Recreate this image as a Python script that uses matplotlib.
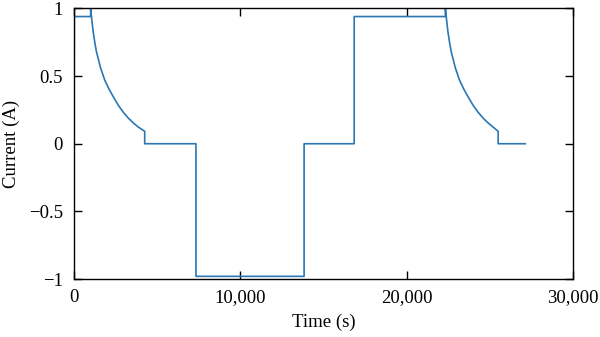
import matplotlib
matplotlib.use("Agg")
import matplotlib.pyplot as plt
from matplotlib.ticker import FuncFormatter

plt.rcParams['font.family'] = ['Liberation Serif', 'DejaVu Serif']
plt.rcParams['font.size'] = 13.5

# current profile (time in s, current in A)
time_s = [0, 20, 1000, 1000, 1050, 1150, 1250, 1350, 1600, 1850, 2100, 2350,
          2660, 2950, 3260, 3600, 3900, 4250, 4250, 7330, 7330, 13830, 13830,
          16840, 16840, 22320, 22320, 22370, 22470, 22570, 22670, 22920, 23170,
          23420, 23670, 23980, 24270, 24580, 24920, 25220, 25490, 25490, 27120]
current_a = [0, 0.94, 0.94, 1.0, 0.94, 0.83, 0.75, 0.68, 0.56, 0.47, 0.405, 0.35,
             0.285, 0.235, 0.19, 0.15, 0.12, 0.092, 0, 0, -0.98, -0.98, 0,
             0, 0.94, 0.94, 1.0, 0.94, 0.83, 0.75, 0.68, 0.56, 0.47,
             0.405, 0.35, 0.285, 0.235, 0.19, 0.15, 0.12, 0.092, 0, 0]

x_ticks = [0, 10000, 20000, 30000]
y_ticks = [-1, -0.5, 0, 0.5, 1]

fig = plt.figure(figsize=(6, 3.37), dpi=100)
ax = fig.add_axes([0.1233, 0.172, 0.832, 0.803])

ax.plot(time_s, current_a, color='#2a77b4', lw=1.2)

ax.set_xlim(0, 30000)
ax.set_ylim(-1, 1)
ax.set_xticks(x_ticks)
ax.set_yticks(y_ticks)
ax.xaxis.set_major_formatter(FuncFormatter(lambda v, p: "{:,}".format(int(v))))
ax.yaxis.set_major_formatter(FuncFormatter(lambda v, p: ("{:g}".format(v)).replace('-', '\u2212')))
ax.tick_params(direction='in', top=True, right=True, length=6, width=1)
ax.tick_params(axis='y', pad=8)
ax.tick_params(axis='x', pad=7)
for s in ax.spines.values():
    s.set_linewidth(1)

ax.set_xlabel("Time (s)", labelpad=6)
ax.set_ylabel("Current (A)", labelpad=6)

plt.savefig("out.png", dpi=100)
plt.close()
